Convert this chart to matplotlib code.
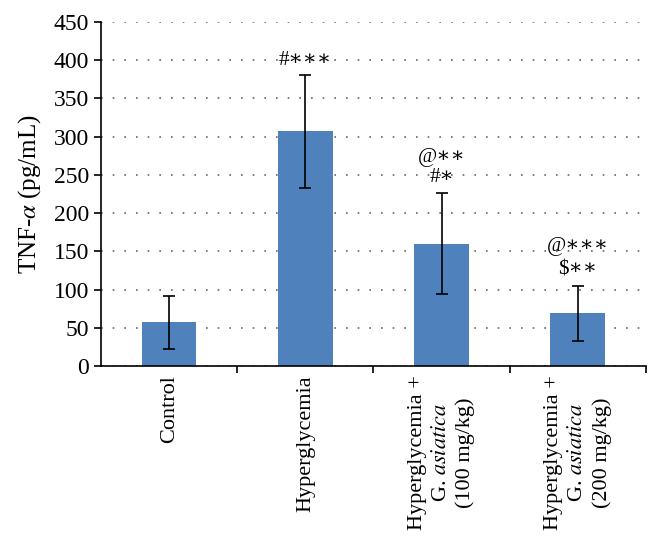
#!/usr/bin/env python3
import matplotlib
matplotlib.use('Agg')
import matplotlib.pyplot as plt
import numpy as np

groups = ['Control', 'Hyperglycemia',
          'Hyperglycemia +\nG. $\\mathit{asiatica}$\n(100 mg/kg)',
          'Hyperglycemia +\nG. $\\mathit{asiatica}$\n(200 mg/kg)']
tnf = [57, 307, 160, 69]
sd = [34, 74, 66, 36]
# significance marks: (group index, value, text)
marks = [(1, 400, '#\u2217\u2217\u2217'),
         (2, 272, '@\u2217\u2217'),
         (2, 246, '#\u2217'),
         (3, 156, '@\u2217\u2217\u2217'),
         (3, 126, '$\u2217\u2217')]

plt.rcParams['font.family'] = ['Liberation Serif', 'DejaVu Serif']
plt.rcParams['mathtext.fontset'] = 'stix'

fig = plt.figure(figsize=(6.61, 5.44), dpi=100)
ax = fig.add_axes([0.153, 0.327, 0.824, 0.633])

x = np.arange(len(groups))
ax.bar(x, tnf, width=0.4, color='#4f81bd', zorder=2)
ax.errorbar(x, tnf, yerr=sd, fmt='none', ecolor='black', elinewidth=1.2,
            capsize=4, capthick=1.2, zorder=3)

for i, v, t in marks:
    ax.text(i, v, t, ha='center', va='center', fontsize=15)

ax.set_xlim(-0.5, len(groups) - 0.5)
ax.set_ylim(0, 450)
ax.set_yticks(range(0, 451, 50))
ax.tick_params(axis='y', labelsize=17, length=5, width=1.2, direction='out')

ax.set_xticks(np.arange(0.5, len(groups), 1.0))
ax.set_xticklabels([])
ax.tick_params(axis='x', length=5, width=1.2, direction='out')
for i, g in enumerate(groups):
    ax.text(i, -12, g, rotation=90, ha='center', va='top', fontsize=16,
            multialignment='center', linespacing=1.35)

ax.set_ylabel('TNF-$\\alpha$ (pg/mL)', fontsize=18, labelpad=8)

ax.yaxis.grid(True, linestyle=(0, (1, 6)), color='#666666', linewidth=1.2, zorder=0)
for s in ['top', 'right']:
    ax.spines[s].set_visible(False)
ax.spines['left'].set_linewidth(1.2)
ax.spines['bottom'].set_linewidth(1.2)

fig.savefig('out.png', dpi=100)
